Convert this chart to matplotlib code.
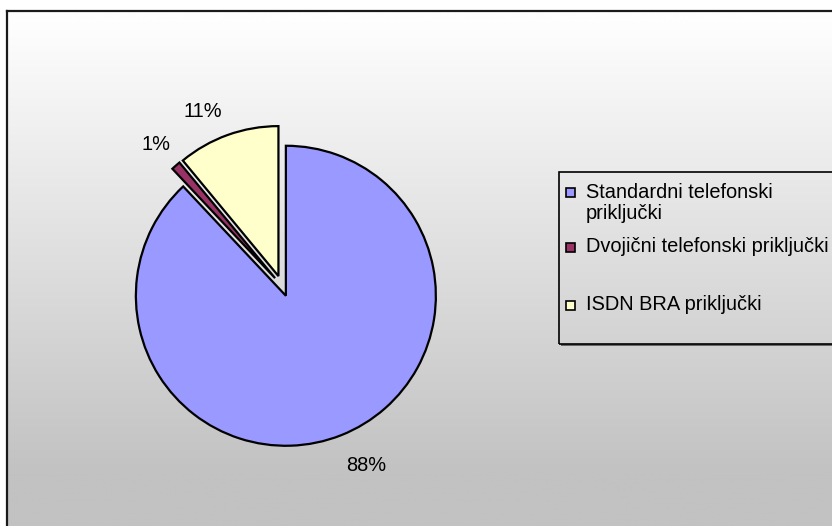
import numpy as np
import matplotlib.pyplot as plt
from matplotlib.patches import Rectangle

plt.rcParams['font.family'] = ['Liberation Sans', 'DejaVu Sans']

# Udio priključaka po vrsti
labels = ['Standardni telefonski\npriključki',
          'Dvojični telefonski priključki',
          'ISDN BRA priključki']
shares = [88, 1, 11]
colors = ['#9999FF', '#993366', '#FFFFCC']

W, H = 832, 526
fig = plt.figure(figsize=(W / 100, H / 100), dpi=100)
ax = fig.add_axes([0, 0, 1, 1])

# pozadina s gradijentom (svijetlo gore, sivo dolje)
ys = np.arange(H)
shade = np.clip(254 - (ys - 11) * (60 / 459), 194, 254) / 255
grad = np.repeat(shade[:, None], 2, axis=1)
ax.imshow(np.dstack([grad, grad, grad]), extent=[7, W, 0, H - 11],
          origin='upper', aspect='auto', zorder=0)
ax.plot([7, 7], [0, H - 11], color='#1a1a1a', lw=1.6, zorder=1)
ax.plot([7, W], [H - 11, H - 11], color='#1a1a1a', lw=1.6, zorder=1)

# pita (explode je u jedinicama osi, tj. pikselima)
wedges, texts, autotexts = ax.pie(
    shares, colors=colors, startangle=90, counterclock=False,
    explode=[10.5, 10.5, 10.5], center=(282, H - 286), radius=150,
    autopct='%1.0f%%', pctdistance=1.22,
    wedgeprops=dict(edgecolor='black', linewidth=1.6),
    textprops=dict(fontsize=14.4, color='black'))
for w in wedges:
    w.set_zorder(3)

# pomak oznaka postotaka
nudges = [(13, 0), (2, -4), (-14, -8)]
for t, (dx, dy) in zip(autotexts, nudges):
    x, y = t.get_position()
    t.set_position((x + dx, y + dy))

# legenda
lx, ltop, lbot = 559, 172, 344
ax.add_patch(Rectangle((lx + 2, H - lbot - 2), 400, lbot - ltop,
                       facecolor='#666666', edgecolor='none', zorder=4))
ax.imshow(np.dstack([grad, grad, grad])[ltop:lbot],
          extent=[lx, W, H - lbot, H - ltop], origin='upper',
          aspect='auto', zorder=5)
ax.add_patch(Rectangle((lx, H - lbot), 400, lbot - ltop,
                       facecolor='none', edgecolor='black', lw=1.2, zorder=6))

entry_y = [203, 247, 305]
marker_y = [192, 247, 305]
for lab, col, ty, my in zip(labels, colors, entry_y, marker_y):
    ax.add_patch(Rectangle((566, H - my - 4.5), 9, 9, facecolor=col,
                           edgecolor='black', lw=1.2, zorder=7))
    ax.text(586, H - ty, lab, fontsize=14.4, va='center', ha='left',
            linespacing=1.15, zorder=7)

ax.set_xlim(0, W)
ax.set_ylim(0, H)
ax.set_aspect('auto')
ax.axis('off')

fig.savefig('out.png', dpi=100, facecolor='white')
